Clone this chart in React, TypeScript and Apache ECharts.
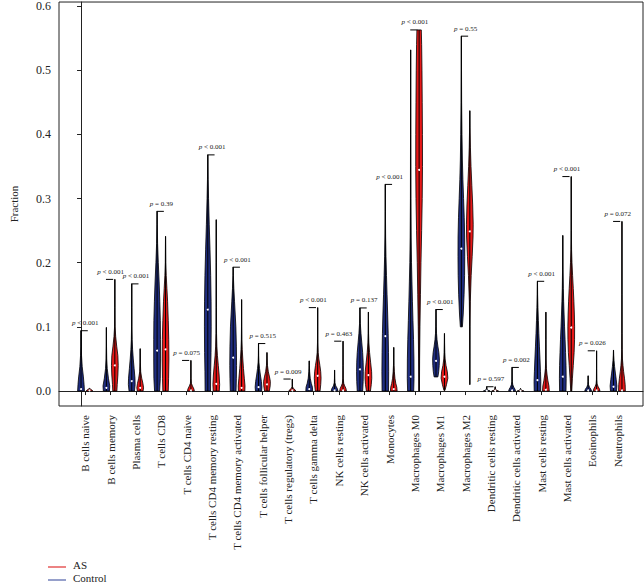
import React, { useEffect, useRef } from "react";
import * as echarts from "echarts";

const categories = [
  "B cells naive", "B cells memory", "Plasma cells", "T cells CD8", "T cells CD4 naive",
  "T cells CD4 memory resting", "T cells CD4 memory activated", "T cells follicular helper",
  "T cells regulatory (tregs)", "T cells gamma delta", "NK cells resting", "NK cells activated",
  "Monocytes", "Macrophages M0", "Macrophages M1", "Macrophages M2", "Dendritic cells resting",
  "Dendritic cells activated", "Mast cells resting", "Mast cells activated", "Eosinophils", "Neutrophils",
];

const pValues = [
  "< 0.001", "< 0.001", "< 0.001", "= 0.39", "= 0.075", "< 0.001", "< 0.001", "= 0.515",
  "= 0.009", "< 0.001", "= 0.463", "= 0.137", "< 0.001", "< 0.001", "< 0.001", "= 0.55",
  "= 0.597", "= 0.002", "< 0.001", "< 0.001", "= 0.026", "= 0.072",
];

const controlMedian = [0.003, 0.005, 0.0155, 0.063, 0, 0.127, 0.052, 0.006, 0, 0.003, 0.001, 0.0337,
  0.0855, 0.0223, 0.047, 0.2218, 0.0005, 0.001, 0.017, 0.0223, 0.001, 0.0067];
const asMedian = [0.001, 0.04, 0.005, 0.065, 0.001, 0.011, 0.005, 0.0104, 0.001, 0.0238, 0.001, 0.0249,
  0.003, 0.3446, 0.0223, 0.2487, 0.0005, 0.0005, 0.002, 0.099, 0.001, 0.001];

// density profiles: [fraction, relative half-width]
type Prof = [number, number][] | null;
const controlProfile: Prof[] = [
  [[0, 1], [0.01, 0.9], [0.022, 0.7], [0.038, 0.35], [0.055, 0.15], [0.07, 0.05], [0.094, 0.02]],
  [[0, 0.9], [0.008, 1], [0.02, 0.6], [0.035, 0.25], [0.05, 0.1], [0.07, 0.04], [0.099, 0.02]],
  [[0, 0.8], [0.01, 1], [0.02, 0.95], [0.035, 0.7], [0.05, 0.45], [0.065, 0.25], [0.08, 0.12], [0.1, 0.06], [0.13, 0.03], [0.167, 0.02]],
  [[0, 0.75], [0.02, 0.95], [0.05, 1], [0.08, 1], [0.11, 0.95], [0.14, 0.8], [0.17, 0.6], [0.2, 0.35], [0.23, 0.15], [0.26, 0.05], [0.28, 0.02]],
  null,
  [[0, 0.8], [0.03, 0.85], [0.06, 0.95], [0.1, 1], [0.14, 0.97], [0.18, 0.85], [0.22, 0.65], [0.26, 0.42], [0.3, 0.22], [0.33, 0.1], [0.368, 0.02]],
  [[0, 0.85], [0.02, 0.95], [0.04, 1], [0.07, 0.95], [0.1, 0.8], [0.12, 0.6], [0.14, 0.4], [0.16, 0.2], [0.18, 0.06], [0.193, 0.02]],
  [[0, 0.9], [0.006, 1], [0.015, 0.85], [0.025, 0.55], [0.035, 0.3], [0.045, 0.12], [0.055, 0.05], [0.074, 0.02]],
  null,
  [[0, 1], [0.006, 0.95], [0.012, 0.6], [0.02, 0.3], [0.03, 0.12], [0.04, 0.04], [0.047, 0.02]],
  [[0, 1], [0.004, 0.8], [0.008, 0.35], [0.013, 0.1], [0.02, 0.04], [0.0326, 0.02]],
  [[0, 0.8], [0.015, 0.95], [0.03, 1], [0.045, 0.95], [0.06, 0.8], [0.075, 0.55], [0.09, 0.3], [0.105, 0.12], [0.12, 0.04], [0.1295, 0.02]],
  [[0, 0.95], [0.03, 1], [0.06, 0.95], [0.09, 0.85], [0.12, 0.7], [0.15, 0.52], [0.18, 0.35], [0.21, 0.2], [0.24, 0.1], [0.28, 0.04], [0.322, 0.02]],
  [[0, 0.9], [0.02, 1], [0.05, 0.97], [0.08, 0.85], [0.11, 0.68], [0.14, 0.52], [0.17, 0.38], [0.2, 0.25], [0.24, 0.14], [0.3, 0.07], [0.4, 0.04], [0.5316, 0.015]],
  [[0.022, 0.55], [0.03, 0.8], [0.04, 0.95], [0.05, 1], [0.06, 0.85], [0.07, 0.55], [0.08, 0.3], [0.09, 0.15], [0.1, 0.07], [0.127, 0.02]],
  [[0.1, 0.3], [0.12, 0.55], [0.15, 0.8], [0.18, 0.95], [0.21, 1], [0.24, 0.98], [0.27, 0.85], [0.3, 0.65], [0.33, 0.45], [0.36, 0.3], [0.4, 0.18], [0.45, 0.08], [0.5, 0.04], [0.553, 0.02]],
  [[0, 1], [0.001, 0.5], [0.003, 0.1], [0.0067, 0.02]],
  [[0, 1], [0.003, 0.85], [0.006, 0.5], [0.01, 0.2], [0.015, 0.06], [0.025, 0.03], [0.0368, 0.02]],
  [[0, 0.95], [0.015, 1], [0.03, 0.9], [0.05, 0.75], [0.07, 0.58], [0.09, 0.42], [0.11, 0.28], [0.13, 0.15], [0.15, 0.06], [0.171, 0.02]],
  [[0, 0.95], [0.02, 1], [0.04, 0.95], [0.06, 0.82], [0.08, 0.68], [0.1, 0.52], [0.12, 0.38], [0.14, 0.25], [0.16, 0.15], [0.19, 0.07], [0.2425, 0.02]],
  [[0, 1], [0.003, 0.8], [0.006, 0.4], [0.01, 0.12], [0.015, 0.04], [0.0238, 0.02]],
  [[0, 0.9], [0.008, 1], [0.018, 0.8], [0.028, 0.55], [0.038, 0.32], [0.048, 0.15], [0.056, 0.06], [0.0637, 0.02]],
];
const asProfile: Prof[] = [
  [[0, 1], [0.002, 0.6], [0.004, 0.05]],
  [[0, 0.6], [0.01, 0.7], [0.025, 0.9], [0.04, 1], [0.055, 0.9], [0.07, 0.55], [0.085, 0.25], [0.1, 0.08], [0.13, 0.03], [0.174, 0.02]],
  [[0, 0.85], [0.005, 1], [0.012, 0.8], [0.02, 0.45], [0.03, 0.15], [0.045, 0.05], [0.066, 0.02]],
  [[0, 0.8], [0.02, 0.9], [0.05, 1], [0.08, 0.95], [0.11, 0.8], [0.14, 0.6], [0.16, 0.4], [0.18, 0.2], [0.2, 0.08], [0.241, 0.02]],
  [[0, 1], [0.003, 0.9], [0.008, 0.45], [0.012, 0.15], [0.02, 0.04], [0.0477, 0.02]],
  [[0, 0.9], [0.01, 1], [0.025, 0.85], [0.04, 0.6], [0.055, 0.35], [0.07, 0.18], [0.09, 0.08], [0.13, 0.04], [0.2, 0.02], [0.267, 0.015]],
  [[0, 0.95], [0.008, 1], [0.02, 0.8], [0.035, 0.55], [0.05, 0.35], [0.065, 0.18], [0.08, 0.08], [0.1, 0.04], [0.1425, 0.015]],
  [[0, 0.7], [0.008, 0.95], [0.015, 1], [0.022, 0.75], [0.03, 0.4], [0.04, 0.15], [0.05, 0.05], [0.06, 0.02]],
  [[0, 1], [0.002, 0.8], [0.004, 0.3], [0.007, 0.06], [0.0187, 0.02]],
  [[0, 0.7], [0.01, 0.9], [0.02, 1], [0.03, 0.9], [0.04, 0.65], [0.05, 0.35], [0.06, 0.15], [0.075, 0.06], [0.1, 0.03], [0.13, 0.015]],
  [[0, 1], [0.004, 0.85], [0.008, 0.5], [0.012, 0.2], [0.02, 0.06], [0.04, 0.03], [0.0777, 0.015]],
  [[0, 0.6], [0.01, 0.85], [0.02, 1], [0.03, 0.95], [0.045, 0.65], [0.06, 0.35], [0.075, 0.15], [0.09, 0.06], [0.123, 0.02]],
  [[0, 1], [0.006, 0.9], [0.012, 0.6], [0.02, 0.35], [0.03, 0.18], [0.04, 0.08], [0.05, 0.04], [0.068, 0.02]],
  [[0, 0.1], [0.05, 0.15], [0.1, 0.25], [0.15, 0.4], [0.2, 0.55], [0.25, 0.75], [0.3, 0.92], [0.35, 1], [0.4, 0.98], [0.45, 0.92], [0.5, 0.85], [0.54, 0.75], [0.5627, 0.65]],
  [[0.001, 0.15], [0.01, 0.6], [0.02, 1], [0.03, 0.85], [0.04, 0.45], [0.05, 0.2], [0.06, 0.1], [0.075, 0.04], [0.0897, 0.02]],
  [[0.01, 0.02], [0.05, 0.03], [0.1, 0.06], [0.14, 0.15], [0.18, 0.4], [0.21, 0.7], [0.24, 0.95], [0.26, 1], [0.29, 0.85], [0.32, 0.6], [0.35, 0.35], [0.38, 0.17], [0.41, 0.07], [0.4368, 0.02]],
  [[0, 1], [0.001, 0.5], [0.003, 0.1], [0.0067, 0.02]],
  [[0, 1], [0.001, 0.5], [0.002, 0.15], [0.004, 0.02]],
  [[0, 1], [0.008, 0.9], [0.016, 0.6], [0.025, 0.35], [0.035, 0.15], [0.05, 0.06], [0.08, 0.03], [0.123, 0.015]],
  [[0, 0.15], [0.02, 0.35], [0.04, 0.6], [0.06, 0.85], [0.08, 0.98], [0.1, 1], [0.12, 0.92], [0.14, 0.78], [0.16, 0.6], [0.18, 0.4], [0.2, 0.22], [0.22, 0.1], [0.25, 0.04], [0.3342, 0.015]],
  [[0, 1], [0.003, 0.85], [0.007, 0.45], [0.011, 0.15], [0.018, 0.05], [0.035, 0.025], [0.0627, 0.015]],
  [[0, 1], [0.01, 0.95], [0.02, 0.75], [0.03, 0.5], [0.04, 0.3], [0.05, 0.15], [0.065, 0.07], [0.09, 0.035], [0.15, 0.02], [0.2643, 0.015]],
];

const yTicks = [0, 0.1, 0.2, 0.3, 0.4, 0.5, 0.6];

const SERIF = "'Liberation Serif', 'DejaVu Serif', serif";
const CONTROL_FILL = "#1f2d80";
const AS_FILL = "#e81818";
const TEXT = "#222";
const HALF = 0.4;
const STEP = 3;

const topOf = (p: Prof) => (p ? p[p.length - 1][0] : 0);

function violinSeries(name: string, profiles: Prof[], medians: number[], offset: number, fill: string) {
  return {
    type: "custom",
    name,
    coordinateSystem: "cartesian2d",
    itemStyle: { color: fill },
    data: categories.map((_, i) => [STEP * i + offset, topOf(profiles[i])]),
    renderItem: (params: any, api: any) => {
      const i = params.dataIndex;
      const prof = profiles[i];
      if (!prof) return null;
      const xc = STEP * i + offset;
      const left = prof.map(([y, w]) => api.coord([xc - w * HALF, y]));
      const right = prof.slice().reverse().map(([y, w]) => api.coord([xc + w * HALF, y]));
      const b = api.coord([xc, prof[0][0]]);
      const t = api.coord([xc, prof[prof.length - 1][0]]);
      const m = api.coord([xc, medians[i]]);
      return {
        type: "group",
        children: [
          { type: "polygon", shape: { points: left.concat(right) }, style: { fill, stroke: "#000", lineWidth: 0.8 } },
          { type: "line", shape: { x1: b[0], y1: b[1], x2: t[0], y2: t[1] }, style: { stroke: "#000", lineWidth: 1 } },
          { type: "circle", shape: { cx: m[0], cy: m[1], r: 1 }, style: { fill: "#fff" } },
        ],
      };
    },
    z: 3,
  };
}

export default function App() {
  const ref = useRef<HTMLDivElement>(null);
  useEffect(() => {
    if (!ref.current) return;
    const chart = echarts.init(ref.current, null, { renderer: "svg" });
    const tickPos = categories.map((_, i) => STEP * i + 0.5);
    const option = {
      animation: false,
      backgroundColor: "#fff",
      textStyle: { color: TEXT, fontFamily: SERIF },
      grid: { left: 47, right: 1, top: 1, bottom: 179, show: true, borderColor: "#222", borderWidth: 1 },
      xAxis: {
        type: "value",
        min: -2.607,
        max: 66.49,
        splitLine: { show: false },
        axisLine: { lineStyle: { color: "#222", width: 1 } },
        axisTick: { customValues: tickPos, length: 4, lineStyle: { color: "#222" } },
        axisLabel: {
          customValues: tickPos,
          rotate: 90,
          margin: 9,
          fontFamily: SERIF,
          fontSize: 11,
          color: TEXT,
          formatter: (v: number) => categories[Math.round((v - 0.5) / STEP)] ?? "",
        },
      },
      yAxis: {
        type: "value",
        min: -0.0233,
        max: 0.6062,
        name: "Fraction",
        nameLocation: "middle",
        nameGap: 40,
        nameTextStyle: { fontFamily: SERIF, fontSize: 11, color: TEXT },
        splitLine: { show: false },
        axisLine: { show: true, lineStyle: { color: "#222", width: 1 } },
        axisTick: { show: true, customValues: yTicks, length: 4, lineStyle: { color: "#222" } },
        axisLabel: {
          customValues: yTicks,
          margin: 8,
          fontFamily: SERIF,
          fontSize: 12,
          color: TEXT,
          formatter: (v: number) => v.toFixed(1),
        },
      },
      series: [
        violinSeries("Control", controlProfile, controlMedian, 0, CONTROL_FILL),
        violinSeries("AS", asProfile, asMedian, 1, AS_FILL),
        {
          type: "custom",
          name: "p",
          coordinateSystem: "cartesian2d",
          itemStyle: { color: TEXT },
          data: categories.map((_, i) => [STEP * i + 0.5, Math.max(topOf(controlProfile[i]), topOf(asProfile[i]))]),
          renderItem: (params: any, api: any) => {
            const i = params.dataIndex;
            const mx = Math.max(topOf(controlProfile[i]), topOf(asProfile[i]));
            const a = api.coord([STEP * i - 0.05, mx]);
            const b = api.coord([STEP * i + 0.8, mx]);
            const c = api.coord([STEP * i + 0.5, mx]);
            return {
              type: "group",
              children: [
                { type: "line", shape: { x1: a[0], y1: a[1], x2: b[0], y2: b[1] }, style: { stroke: "#000", lineWidth: 1 } },
                {
                  type: "text",
                  x: c[0],
                  y: c[1] - 4,
                  style: {
                    text: "{i|p}{n| " + pValues[i] + "}",
                    fontFamily: SERIF,
                    fontSize: 7,
                    fill: TEXT,
                    align: "center",
                    verticalAlign: "bottom",
                    rich: {
                      i: { fontStyle: "italic", fontFamily: SERIF, fontSize: 7, fill: TEXT, color: TEXT },
                      n: { fontFamily: SERIF, fontSize: 7, fill: TEXT, color: TEXT },
                    },
                  },
                },
              ],
            };
          },
          z: 4,
        },
      ],
      graphic: [
        { type: "line", shape: { x1: 48, y1: 567, x2: 66, y2: 567 }, style: { stroke: "#e03030", lineWidth: 1.2 } },
        { type: "text", x: 73, y: 565, style: { text: "AS", fontFamily: SERIF, fontSize: 11, fill: TEXT, verticalAlign: "middle" } },
        { type: "line", shape: { x1: 48, y1: 580, x2: 66, y2: 580 }, style: { stroke: "#5060a8", lineWidth: 1.2 } },
        { type: "text", x: 73, y: 578, style: { text: "Control", fontFamily: SERIF, fontSize: 11, fill: TEXT, verticalAlign: "middle" } },
      ],
    };
    chart.setOption(option as any);
    return () => chart.dispose();
  }, []);
  return <div ref={ref} style={{ position: "fixed", left: 0, top: 0, width: 644, height: 585 }} />;
}
